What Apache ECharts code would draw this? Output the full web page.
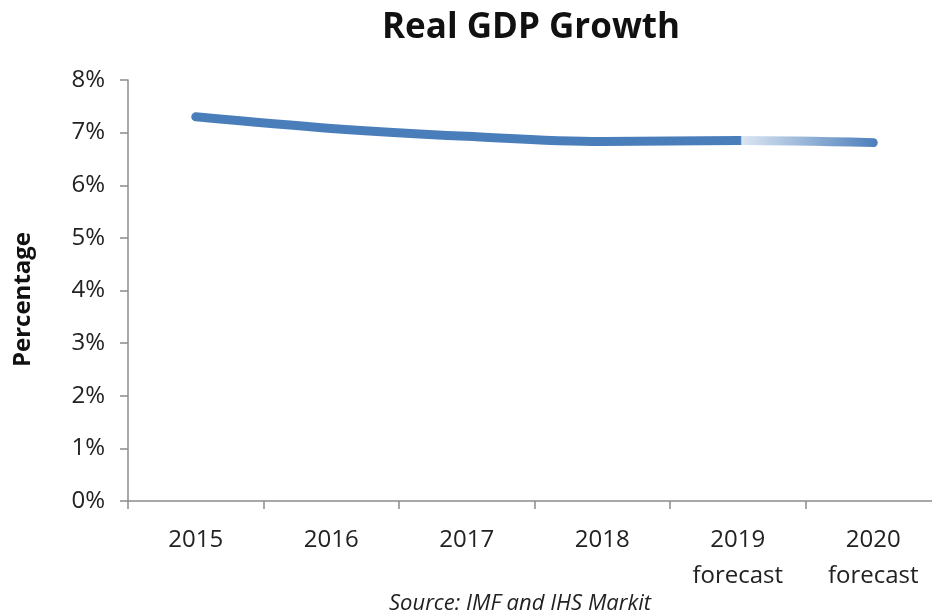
<!DOCTYPE html>
<html>
<head>
<meta charset="utf-8">
<script src="https://cdn.jsdelivr.net/npm/echarts@6/dist/echarts.min.js"></script>
<style>
  html, body { margin: 0; padding: 0; background: #fff; overflow: hidden; }
  /* the plot area runs slightly past the right edge of the window */
  #chart { width: 945px; height: 615px; }
</style>
</head>
<body>
<div id="chart"></div>
<script>
// Real GDP growth, percent per year
const years = ['2015', '2016', '2017', '2018', '2019\nforecast', '2020\nforecast'];
const growth = [7.3, 7.08, 6.93, 6.83, 6.85, 6.81];
const yTicks = { min: 0, max: 8, interval: 1 };

const BLUE = '#4a7ebb';
const PALE = '#dbe5f2';
const FONT = 'Open Sans';

const chart = echarts.init(document.getElementById('chart'), null, { renderer: 'canvas' });

// The forecast stretch (last segment) fades in from a pale tint back to full blue.
const lastActual = years.length - 2;
const fadeStart = lastActual / (years.length - 1);

chart.setOption({
  animation: false,
  backgroundColor: '#fff',
  graphic: [{
    type: 'text',
    x: 531,
    y: 28,
    style: {
      text: 'Real GDP Growth',
      align: 'center',
      verticalAlign: 'middle',
      fontFamily: FONT,
      fontWeight: 'bold',
      fontSize: 35,
      fill: '#111'
    }
  }, {
    type: 'text',
    x: 520,
    y: 604,
    style: {
      text: 'Source: IMF and IHS Markit',
      align: 'center',
      verticalAlign: 'middle',
      fontFamily: FONT,
      fontStyle: 'italic',
      fontSize: 22,
      fill: '#222'
    }
  }],
  grid: { left: 128, top: 80, width: 813, height: 421, containLabel: false, outerBoundsMode: 'none' },
  xAxis: {
    type: 'category',
    data: years,
    boundaryGap: true,
    axisLine: { lineStyle: { color: '#8c8c8c', width: 1.5 } },
    axisTick: { show: true, length: 8, alignWithLabel: false, lineStyle: { color: '#8c8c8c', width: 1.5 } },
    axisLabel: {
      color: '#222',
      fontFamily: FONT,
      fontSize: 24,
      lineHeight: 36,
      margin: 21
    },
    splitLine: { show: false }
  },
  yAxis: {
    type: 'value',
    min: yTicks.min,
    max: yTicks.max,
    interval: yTicks.interval,
    name: 'Percentage',
    nameLocation: 'middle',
    nameGap: 93,
    nameRotate: 90,
    nameTextStyle: {
      fontFamily: FONT,
      fontWeight: 'bold',
      fontSize: 24,
      color: '#111',
      padding: [0, 18, 0, 0]
    },
    axisLine: { show: true, lineStyle: { color: '#8c8c8c', width: 1.5 } },
    axisTick: { show: true, length: 8, lineStyle: { color: '#8c8c8c', width: 1.5 } },
    axisLabel: {
      color: '#222',
      fontFamily: FONT,
      fontSize: 24,
      margin: 23,
      formatter: v => v + '%'
    },
    splitLine: { show: false }
  },
  series: [{
    type: 'line',
    data: growth,
    smooth: 0.35,
    symbol: 'none',
    lineStyle: {
      width: 9,
      cap: 'round',
      join: 'round',
      color: new echarts.graphic.LinearGradient(0, 0, 1, 0, [
        { offset: 0, color: BLUE },
        { offset: fadeStart, color: BLUE },
        { offset: fadeStart + 0.002, color: PALE },
        { offset: 1, color: BLUE }
      ])
    }
  }]
});
</script>
</body>
</html>
